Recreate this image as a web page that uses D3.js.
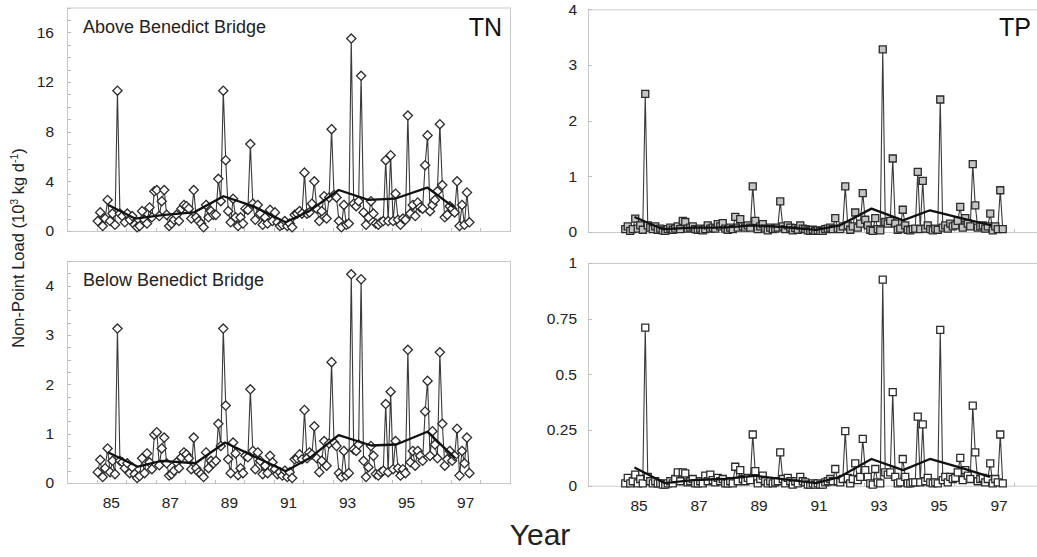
<!DOCTYPE html>
<html>
<head>
<meta charset="utf-8">
<script src="https://cdn.jsdelivr.net/npm/d3@7/dist/d3.min.js"></script>
<style>
  body { margin: 0; background: #fff; }
  svg { display: block; font-family: Arial, "Liberation Sans", sans-serif; }
</style>
</head>
<body>
<svg id="chart" width="1037" height="557"></svg>
<script>
// monthly loads, Jan 1985 .. Aug 1997
const startYear = 1985;

const tnAbove = [
  0.8, 1.5, 0.4, 1.0, 2.5, 0.8, 1.4, 0.5, 11.3, 1.4, 1.2, 0.7,
  1.4, 0.9, 1.2, 0.5, 0.3, 0.4, 1.6, 0.9, 0.6, 1.9, 1.1, 3.2,
  3.3, 1.2, 2.4, 3.3, 1.3, 0.4, 0.6, 0.9, 1.3, 0.8, 1.8, 2.1,
  2.0, 1.8, 1.0, 3.3, 1.1, 0.8, 0.6, 0.3, 2.1, 1.1, 1.6, 1.3,
  1.3, 4.2, 2.4, 11.3, 5.7, 1.6, 0.7, 2.6, 1.1, 0.4, 1.1, 0.6,
  1.8, 1.7, 7.0, 2.2, 0.9, 2.1, 1.4, 0.5, 1.1, 0.6, 1.7, 0.8,
  1.5, 0.7, 0.4, 0.5, 0.8, 0.4, 0.6, 0.3, 1.3, 1.4, 1.6, 1.4,
  4.7, 1.4, 1.5, 2.2, 4.0, 1.8, 0.8, 1.6, 2.8, 1.0, 2.7, 8.2,
  2.9, 2.7, 0.8, 0.3, 2.1, 0.5, 0.6, 15.5, 2.2, 2.0, 2.4, 12.5,
  1.5, 0.5, 1.1, 2.4, 1.4, 0.6, 0.5, 0.7, 0.8, 5.7, 0.8, 6.1,
  0.8, 3.0, 0.9, 0.5, 1.0, 0.9, 9.3, 1.4, 2.1, 1.2, 2.3, 1.9,
  1.8, 5.3, 7.7, 1.6, 2.1, 2.5, 3.2, 8.6, 3.7, 1.1, 1.3, 2.0,
  1.8, 1.5, 4.0, 0.4, 2.1, 0.5, 3.1, 0.7
];
const tnBelow = [
  0.22, 0.47, 0.12, 0.3, 0.7, 0.22, 0.45, 0.18, 3.13, 0.45, 0.42, 0.3,
  0.4, 0.2, 0.32, 0.18, 0.1, 0.14, 0.5, 0.2, 0.6, 0.42, 0.28, 0.98,
  1.03, 0.36, 0.7, 0.92, 0.4, 0.15, 0.18, 0.25, 0.42, 0.3, 0.52, 0.62,
  0.58, 0.5, 0.28, 0.92, 0.3, 0.22, 0.18, 0.12, 0.62, 0.3, 0.45, 0.4,
  0.45, 1.2, 0.75, 3.13, 1.57, 0.48, 0.2, 0.82, 0.6, 0.16, 0.3, 0.2,
  0.55, 0.52, 1.9, 0.65, 0.28, 0.62, 0.45, 0.18, 0.35, 0.2, 0.55, 0.42,
  0.28, 0.18, 0.22, 0.15, 0.25, 0.12, 0.22, 0.1, 0.48, 0.5, 0.58, 0.48,
  1.48, 0.5, 0.62, 0.58, 1.15, 0.5, 0.22, 0.45, 0.85, 0.35, 0.8, 2.45,
  0.82, 0.75, 0.2, 0.12, 0.65, 0.15, 0.2, 4.23, 0.68, 0.65, 0.78, 4.13,
  0.45, 0.12, 0.32, 0.75, 0.55, 0.18, 0.15, 0.22, 0.25, 1.6, 0.22, 1.85,
  0.28, 0.85, 0.3, 0.15, 0.28, 0.2, 2.7, 0.42, 0.65, 0.35, 0.65, 0.55,
  0.45, 1.45, 2.07, 0.55, 1.05, 0.78, 0.5, 2.65, 1.2, 0.35, 0.48, 0.65,
  0.45, 0.55, 1.1, 0.15, 0.65, 0.4, 0.92, 0.2
];
const tpAbove = [
  0.05, 0.1, 0.02, 0.05, 0.24, 0.06, 0.12, 0.04, 2.48, 0.12, 0.08, 0.05,
  0.1, 0.04, 0.06, 0.03, 0.02, 0.05, 0.08, 0.04, 0.06, 0.1, 0.05, 0.2,
  0.18, 0.06, 0.08, 0.1, 0.05, 0.04, 0.06, 0.03, 0.05, 0.12, 0.06, 0.08,
  0.06, 0.14, 0.1, 0.16, 0.06, 0.04, 0.08, 0.05, 0.27, 0.08, 0.23, 0.1,
  0.08, 0.12, 0.08, 0.82, 0.2, 0.05, 0.1, 0.14, 0.06, 0.03, 0.08, 0.05,
  0.06, 0.08, 0.55, 0.1, 0.05, 0.12, 0.08, 0.03, 0.07, 0.04, 0.12, 0.06,
  0.05, 0.03, 0.02, 0.04, 0.02, 0.03, 0.02, 0.02, 0.05, 0.06, 0.08, 0.05,
  0.25, 0.06, 0.05, 0.1, 0.82, 0.12, 0.04, 0.1, 0.35, 0.08, 0.15, 0.7,
  0.22, 0.12, 0.04, 0.02, 0.25, 0.05, 0.03, 3.28, 0.18, 0.15, 0.2, 1.32,
  0.15, 0.04, 0.06, 0.4, 0.12, 0.04, 0.03, 0.05, 0.06, 1.08, 0.05, 0.92,
  0.06, 0.12, 0.05, 0.03, 0.06, 0.04, 2.38, 0.08, 0.12, 0.06, 0.15, 0.1,
  0.12, 0.2, 0.45, 0.08, 0.25, 0.15, 0.1, 1.22, 0.48, 0.08, 0.1, 0.12,
  0.06, 0.1, 0.33, 0.03, 0.1, 0.05, 0.75, 0.05
];
const tpBelow = [
  0.01, 0.035, 0.01, 0.02, 0.05, 0.01, 0.03, 0.01, 0.71, 0.04, 0.02, 0.01,
  0.02, 0.01, 0.01, 0.005, 0.005, 0.01, 0.02, 0.01, 0.03, 0.06, 0.02, 0.06,
  0.055, 0.015, 0.02, 0.03, 0.01, 0.01, 0.02, 0.01, 0.045, 0.02, 0.05, 0.025,
  0.015, 0.035, 0.02, 0.03, 0.01, 0.01, 0.02, 0.01, 0.085, 0.02, 0.07, 0.03,
  0.02, 0.035, 0.025, 0.23, 0.065, 0.01, 0.03, 0.045, 0.02, 0.01, 0.02, 0.01,
  0.015, 0.02, 0.15, 0.03, 0.01, 0.035, 0.02, 0.005, 0.02, 0.01, 0.04, 0.02,
  0.015, 0.005, 0.005, 0.01, 0.005, 0.01, 0.005, 0.005, 0.015, 0.02, 0.03, 0.02,
  0.075, 0.02, 0.015, 0.03, 0.245, 0.035, 0.01, 0.03, 0.1, 0.025, 0.04, 0.21,
  0.07, 0.04, 0.01, 0.005, 0.075, 0.015, 0.01, 0.925, 0.06, 0.05, 0.06, 0.42,
  0.04, 0.01, 0.015, 0.12, 0.04, 0.01, 0.01, 0.015, 0.015, 0.31, 0.015, 0.275,
  0.02, 0.035, 0.015, 0.01, 0.015, 0.01, 0.7, 0.025, 0.04, 0.015, 0.04, 0.03,
  0.035, 0.06, 0.125, 0.025, 0.07, 0.045, 0.03, 0.36, 0.15, 0.02, 0.03, 0.035,
  0.015, 0.03, 0.1, 0.01, 0.03, 0.015, 0.23, 0.01
];

// smoothed (annual) trend lines
const tnAboveTrendYear = [1985.4, 1986.3, 1987.3, 1988.3, 1989.3, 1990.3, 1991.4, 1992.2, 1993.2, 1994.2, 1995.1, 1996.2, 1997.1];
const tnAboveTrend     = [2.1, 1.0, 1.3, 1.5, 2.8, 2.0, 0.7, 1.6, 3.3, 2.5, 2.6, 3.5, 1.9];
const tnBelowTrendYear = [1985.4, 1986.4, 1987.2, 1988.35, 1989.35, 1990.3, 1991.4, 1992.2, 1993.2, 1994.3, 1995.15, 1996.2, 1997.15];
const tnBelowTrend     = [0.62, 0.33, 0.45, 0.4, 0.82, 0.55, 0.24, 0.5, 0.97, 0.76, 0.78, 1.04, 0.5];
const tpAboveTrendYear = [1985.35, 1986.3, 1987.3, 1988.3, 1989.3, 1990.3, 1991.4, 1992.2, 1993.25, 1994.3, 1995.2, 1996.3, 1997.25];
const tpAboveTrend     = [0.27, 0.05, 0.08, 0.08, 0.12, 0.09, 0.04, 0.12, 0.42, 0.21, 0.39, 0.24, 0.12];
const tpBelowTrendYear = [1985.35, 1986.35, 1987.3, 1988.3, 1989.35, 1990.3, 1991.4, 1992.2, 1993.25, 1994.3, 1995.2, 1996.3, 1997.2];
const tpBelowTrend     = [0.082, 0.012, 0.025, 0.03, 0.045, 0.03, 0.012, 0.04, 0.12, 0.07, 0.12, 0.078, 0.04];

const tnAboveTicks = [0, 4, 8, 12, 16];
const tnBelowTicks = [0, 1, 2, 3, 4];
const tpAboveTicks = [0, 1, 2, 3, 4];
const tpBelowTicks = [0, 0.25, 0.5, 0.75, 1];
const yearLabels = [85, 87, 89, 91, 93, 95, 97];

const svg = d3.select("#chart");

const xLeft = d3.scaleLinear().domain([1984, 1999]).range([67, 510]);
const xRight = d3.scaleLinear().domain([1983.8, 1999]).range([588, 1044]);

const panels = [
  { values: tnAbove, ty: tnAboveTrendYear, tv: tnAboveTrend, x: xLeft,
    y: d3.scaleLinear().domain([0, 18]).range([231, 7.5]), ticks: tnAboveTicks, minor: 1,
    shape: "diamond", fill: "#fff", title: "Above Benedict Bridge", tag: "TN", showYears: false, labelX: 54 },
  { values: tnBelow, ty: tnBelowTrendYear, tv: tnBelowTrend, x: xLeft,
    y: d3.scaleLinear().domain([0, 4.5]).range([483, 261]), ticks: tnBelowTicks, minor: 0.25,
    shape: "diamond", fill: "#fff", title: "Below Benedict Bridge", tag: null, showYears: true, labelX: 54 },
  { values: tpAbove, ty: tpAboveTrendYear, tv: tpAboveTrend, x: xRight,
    y: d3.scaleLinear().domain([0, 4]).range([232, 9.3]), ticks: tpAboveTicks, minor: null,
    shape: "square", fill: "#c4c4c4", title: null, tag: "TP", showYears: false, labelX: 577 },
  { values: tpBelow, ty: tpBelowTrendYear, tv: tpBelowTrend, x: xRight,
    y: d3.scaleLinear().domain([0, 1]).range([485.7, 263]), ticks: tpBelowTicks, minor: null,
    shape: "square", fill: "#fff", title: null, tag: null, showYears: true, labelX: 577 }
];

const diamond = "M0,-4.6L4.6,0L0,4.6L-4.6,0Z";
const square = "M-3.5,-3.5H3.5V3.5H-3.5Z";

panels.forEach(p => {
  const g = svg.append("g");
  const [x0, x1] = p.x.range();
  const [yb, yt] = p.y.range();

  // frame
  g.append("rect")
    .attr("x", x0 + 0.5).attr("y", yt + 0.5)
    .attr("width", x1 - x0).attr("height", yb - yt)
    .attr("fill", "none").attr("stroke", "#c9c9c9").attr("stroke-width", 1);

  // y ticks (inside)
  const allY = p.minor ? d3.range(0, p.y.domain()[1] + 1e-9, p.minor) : p.ticks;
  g.selectAll(".yt").data(allY).join("line")
    .attr("x1", x0 + 0.5).attr("x2", x0 + 4)
    .attr("y1", d => Math.round(p.y(d)) + 0.5).attr("y2", d => Math.round(p.y(d)) + 0.5)
    .attr("stroke", "#bbb");

  g.selectAll(".yl").data(p.ticks).join("text")
    .attr("x", p.labelX).attr("y", d => p.y(d))
    .attr("dy", "0.35em").attr("text-anchor", "end")
    .attr("font-size", 15.5).attr("fill", "#222")
    .text(d => d);

  // year ticks on bottom axis
  const years = d3.range(1985, 1999);
  g.selectAll(".xt").data(years).join("line")
    .attr("x1", d => Math.round(p.x(d)) + 0.5).attr("x2", d => Math.round(p.x(d)) + 0.5)
    .attr("y1", yb + 0.5).attr("y2", yb - 3)
    .attr("stroke", "#bbb");

  if (p.showYears) {
    g.selectAll(".xl").data(yearLabels).join("text")
      .attr("x", d => p.x(1900 + d + 0.5)).attr("y", yb + 25)
      .attr("text-anchor", "middle").attr("font-size", 15.5).attr("fill", "#222")
      .text(d => d);
  }

  const pts = p.values.map((v, i) => ({ t: startYear + (i + 0.5) / 12, v }));

  g.append("path").datum(pts)
    .attr("fill", "none").attr("stroke", "#3a3a3a").attr("stroke-width", 1.1)
    .attr("d", d3.line().x(d => p.x(d.t)).y(d => p.y(d.v)));

  g.selectAll(".mk").data(pts).join("path")
    .attr("transform", d => `translate(${p.x(d.t)},${p.y(d.v)})`)
    .attr("d", p.shape === "diamond" ? diamond : square)
    .attr("fill", p.fill).attr("stroke", "#2a2a2a").attr("stroke-width", 1.3);

  const trend = p.ty.map((t, i) => ({ t, v: p.tv[i] }));
  g.append("path").datum(trend)
    .attr("fill", "none").attr("stroke", "#111").attr("stroke-width", 2.3)
    .attr("stroke-linejoin", "round")
    .attr("d", d3.line().x(d => p.x(d.t)).y(d => p.y(d.v)));

  if (p.title) {
    g.append("text").attr("x", x0 + 16).attr("y", yt + 25)
      .attr("font-size", 18).attr("fill", "#222").text(p.title);
  }
  if (p.tag) {
    g.append("text").attr("x", p.tag === "TN" ? 502 : 1031).attr("y", 36)
      .attr("text-anchor", "end").attr("font-size", 25).attr("fill", "#111").text(p.tag);
  }
});

// axis titles
const yt = svg.append("text")
  .attr("transform", "translate(24,248) rotate(-90)")
  .attr("text-anchor", "middle").attr("font-size", 16.5).attr("fill", "#222");
yt.append("tspan").text("Non-Point Load (10");
yt.append("tspan").attr("dy", -6).attr("font-size", 10.5).text("3");
yt.append("tspan").attr("dy", 6).text(" kg d");
yt.append("tspan").attr("dy", -6).attr("font-size", 10.5).text("-1");
yt.append("tspan").attr("dy", 6).text(")");

svg.append("text").attr("x", 540).attr("y", 545)
  .attr("text-anchor", "middle").attr("font-size", 30).attr("fill", "#222")
  .text("Year");
</script>
</body>
</html>
